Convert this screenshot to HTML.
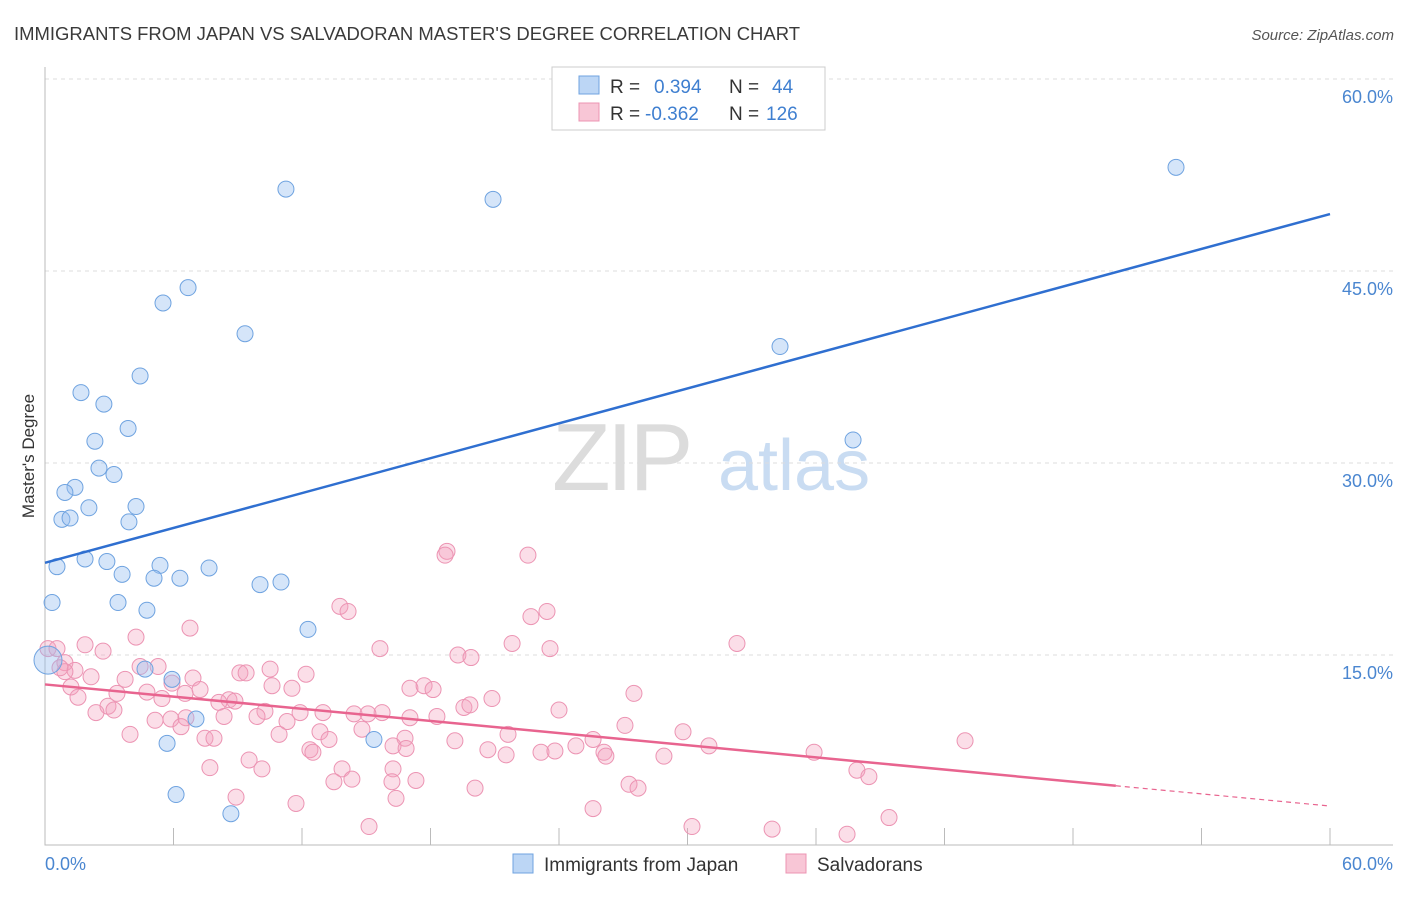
<!DOCTYPE html>
<html><head><meta charset="utf-8">
<style>
body{margin:0;background:#fff;font-family:"Liberation Sans",sans-serif;}
svg text{font-family:"Liberation Sans",sans-serif;}
</style></head>
<body>
<svg id="chart" width="1406" height="892" viewBox="0 0 1406 892">
<text x="14" y="40" font-size="18" fill="#3a3a3a" textLength="786" lengthAdjust="spacingAndGlyphs">IMMIGRANTS FROM JAPAN VS SALVADORAN MASTER'S DEGREE CORRELATION CHART</text>
<text x="1394" y="40" font-size="15" fill="#555" font-style="italic" text-anchor="end">Source: ZipAtlas.com</text>
<g>
<text x="552" y="490" font-size="96" fill="#dcdcdc" font-family="Liberation Serif" letter-spacing="-4">ZIP</text>
<text x="718" y="490" font-size="72" fill="#c9dcf2">atlas</text>
</g>
<g id="grid"></g>
<g id="axes"></g>
<g id="marks"></g>
<text transform="translate(34,456) rotate(-90)" font-size="17" fill="#333" text-anchor="middle">Master's Degree</text>
<g>
<rect x="552" y="67" width="273" height="63" fill="#fff" stroke="#ccc"/>
<rect x="579" y="76" width="20" height="18" fill="#bcd6f5" stroke="#6fa3e0"/>
<rect x="579" y="103" width="20" height="18" fill="#f8c6d6" stroke="#ec94b3"/>
<text x="610" y="93" font-size="19" fill="#333">R = </text><text x="654" y="93" font-size="19" fill="#3f7fd0">0.394</text>
<text x="729" y="93" font-size="19" fill="#333">N = </text><text x="772" y="93" font-size="19" fill="#3f7fd0">44</text>
<text x="610" y="120" font-size="19" fill="#333">R = </text><text x="645" y="120" font-size="19" fill="#3f7fd0">-0.362</text>
<text x="729" y="120" font-size="19" fill="#333">N = </text><text x="766" y="120" font-size="19" fill="#3f7fd0">126</text>
</g>
<g>
<rect x="513" y="854" width="20" height="19" fill="#bcd6f5" stroke="#6fa3e0"/>
<text x="544" y="871" font-size="19" fill="#333">Immigrants from Japan</text>
<rect x="786" y="854" width="20" height="19" fill="#f8c6d6" stroke="#ec94b3"/>
<text x="817" y="871" font-size="19" fill="#333">Salvadorans</text>
</g>
</svg>
<script>
const yTicks=[15,30,45,60];
const yTickLabels=["15.0%","30.0%","45.0%","60.0%"];
const xTickLabels=["0.0%","60.0%"];
const japanX=[11.25,20.92,52.81,6.68,5.51,9.34,34.32,4.44,1.68,2.75,3.88,2.33,37.73,2.52,3.22,1.40,0.93,2.05,4.25,0.79,1.17,3.92,0.56,1.87,2.89,5.37,3.60,5.09,6.30,7.66,10.04,11.02,0.33,3.41,4.76,12.28,4.67,5.93,7.05,5.70,15.36,6.12,8.68,0.14];
const japanY=[51.4,50.6,53.1,43.7,42.5,40.1,39.1,36.8,35.5,34.6,32.7,31.7,31.8,29.6,29.1,28.1,27.7,26.5,26.6,25.6,25.7,25.4,21.9,22.5,22.3,22.0,21.3,21.0,21.0,21.8,20.5,20.7,19.1,19.1,18.5,17.0,13.9,13.1,10.0,8.1,8.4,4.1,2.6,14.6];
const salvX=[18.77,18.68,22.55,13.77,14.15,23.44,22.69,6.77,4.25,1.87,0.14,0.56,21.81,32.31,2.71,15.64,23.58,19.28,19.89,0.93,1.40,2.15,5.28,4.44,10.51,12.19,9.10,9.39,0.93,0.70,6.91,3.74,5.93,17.04,17.70,18.12,11.53,10.60,7.24,6.54,4.76,3.36,1.21,1.54,5.46,8.59,8.87,8.12,2.94,3.22,2.38,10.27,11.91,12.98,15.74,14.43,15.08,19.56,19.84,20.87,24.00,27.50,17.04,18.30,11.30,9.90,8.36,6.58,5.14,5.88,6.35,3.97,12.84,10.93,7.47,7.89,13.26,14.80,16.81,16.25,16.86,21.62,27.08,29.79,19.14,20.68,21.53,23.16,24.79,23.81,25.59,26.10,26.19,28.90,31.00,35.91,42.96,12.37,12.51,9.53,10.13,7.70,13.87,16.25,14.33,13.49,16.20,17.32,20.08,27.27,27.69,37.91,38.47,8.92,11.72,16.39,25.59,30.21,33.95,37.45,39.41,15.13];
const salvY=[23.1,22.8,22.8,18.8,18.4,18.4,18.0,17.1,16.4,15.8,15.5,15.5,15.9,15.9,15.3,15.5,15.5,15.0,14.8,14.4,13.8,13.3,14.1,14.1,13.9,13.5,13.6,13.6,13.7,14.0,13.2,13.1,12.8,12.4,12.6,12.3,12.4,12.6,12.3,12.0,12.1,12.0,12.5,11.7,11.6,11.5,11.4,11.3,11.0,10.7,10.5,10.6,10.5,10.5,10.5,10.4,10.4,10.9,11.1,11.6,10.7,12.0,10.1,10.2,9.8,10.2,10.2,10.1,9.9,10.0,9.4,8.8,9.0,8.8,8.5,8.5,8.4,9.2,8.5,7.9,7.7,8.8,9.5,9.0,8.3,7.6,7.2,7.4,7.9,7.5,8.4,7.4,7.1,7.1,7.9,7.4,8.3,7.6,7.4,6.8,6.1,6.2,6.1,6.1,5.3,5.1,5.1,5.2,4.6,4.9,4.6,6.0,5.5,3.9,3.4,3.8,3.0,1.6,1.4,1.0,2.3,1.6];
const japanTrend=[22.2,49.45];
const salvTrend=[12.7,3.2];
const salvSolidEnd=50;

const NS="http://www.w3.org/2000/svg";
const X=v=>45+v*(1285/60);
const Y=v=>847-v*12.8;
function mk(tag,attrs,parent){const e=document.createElementNS(NS,tag);for(const k in attrs)e.setAttribute(k,attrs[k]);parent.appendChild(e);return e;}
const grid=document.getElementById('grid'),axes=document.getElementById('axes'),marks=document.getElementById('marks');
yTicks.forEach((t,i)=>{
  const l=mk('line',{x1:45,x2:1393,y1:Y(t),y2:Y(t),stroke:'#ddd','stroke-dasharray':'4,4'},grid);
  
  
  const tx=mk('text',{x:1393,y:Y(t)+24,'font-size':18,fill:'#4a86d0','text-anchor':'end'},axes);
  tx.textContent=yTickLabels[i];
  
  
});
const ax=mk('path',{d:'M45,67V845H1393',stroke:'#bbb',fill:'none'},axes);


for(let i=0;i<=10;i++){
  const t=mk('line',{x1:X(i*6),x2:X(i*6),y1:828,y2:845,stroke:'#bbb'},axes);
  
  
}
const xl0=mk('text',{x:45,y:870,'font-size':18,fill:'#4a86d0'},axes);xl0.textContent=xTickLabels[0];


const xl1=mk('text',{x:1393,y:870,'font-size':18,fill:'#4a86d0','text-anchor':'end'},axes);xl1.textContent=xTickLabels[1];


salvX.forEach((v,i)=>{
  const c=mk('circle',{cx:X(v),cy:Y(salvY[i]),r:8,fill:'rgba(244,160,190,0.35)',stroke:'#ec94b3','stroke-width':1},marks);
  
  
});
japanX.forEach((v,i)=>{
  const big=i===japanX.length-1;
  const c=mk('circle',{cx:X(v),cy:Y(japanY[i]),r:big?14:8,fill:'rgba(150,190,240,0.4)',stroke:'#6fa3e0','stroke-width':1},marks);
  
  
});
const bl=mk('line',{x1:X(0),y1:Y(japanTrend[0]),x2:X(60),y2:Y(japanTrend[1]),stroke:'#2f6fd0','stroke-width':2.5},marks);


const sAt=v=>salvTrend[0]+(salvTrend[1]-salvTrend[0])*v/60;
const pl=mk('line',{x1:X(0),y1:Y(salvTrend[0]),x2:X(salvSolidEnd),y2:Y(sAt(salvSolidEnd)),stroke:'#e8648f','stroke-width':2.5},marks);


const pd=mk('line',{x1:X(salvSolidEnd),y1:Y(sAt(salvSolidEnd)),x2:X(60),y2:Y(salvTrend[1]),stroke:'#e8648f','stroke-width':1.2,'stroke-dasharray':'5,4'},marks);


</script>
</body></html>
